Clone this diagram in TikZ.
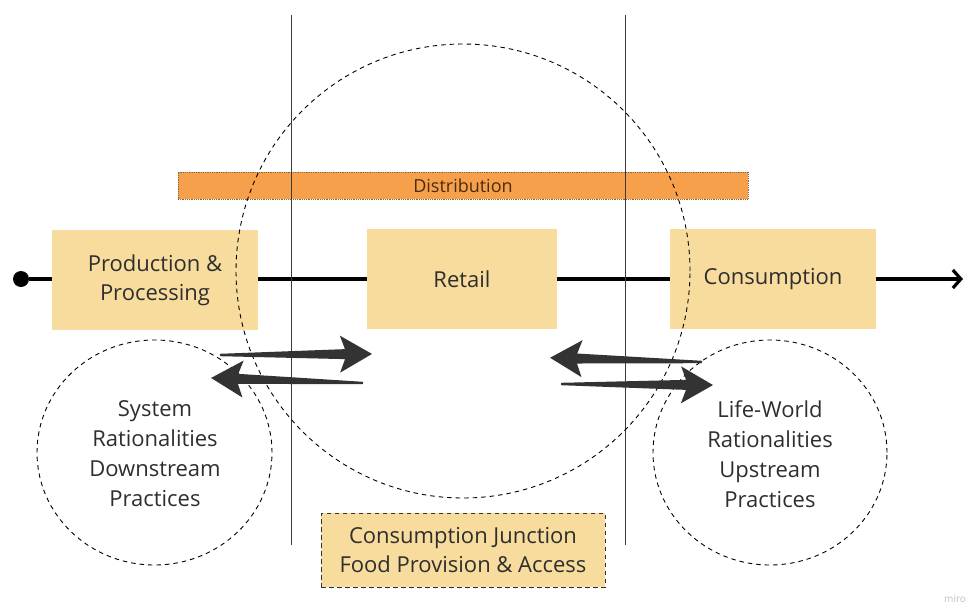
\documentclass[tikz,border=0pt]{standalone}
\usepackage{fontspec}
\setmainfont{Open Sans}
\usetikzlibrary{arrows.meta,shapes.geometric}
\definecolor{boxfill}{HTML}{F8DC9D}
\definecolor{distfill}{HTML}{F7A04B}
\definecolor{distedge}{HTML}{8A6440}
\definecolor{ink}{HTML}{2E2E2E}
\definecolor{distink}{HTML}{4A2C12}
\definecolor{arrowink}{HTML}{333333}
\definecolor{rule}{HTML}{3A3A3A}

\begin{document}
\begin{tikzpicture}[x=1pt,y=-1pt,
  stage/.style={fill=boxfill, minimum height=100pt, inner sep=0pt,
    align=center, text=ink, font=\fontsize{22}{29}\selectfont},
  ring/.style={draw=black, line width=0.9pt, dash pattern=on 4.5pt off 4pt,
    inner sep=0pt},
  ringtext/.style={align=center, inner sep=0pt, text=ink,
    font=\fontsize{22}{30}\selectfont},
  flowline/.style={draw=black, line width=3.4pt},
  divider/.style={draw=rule, line width=1pt},
  fat arrow/.pic={
    \fill[arrowink] (0,-1.2) -- (125,-5) -- (120,-18.5) -- (152,0)
      -- (120,18.5) -- (125,5) -- (0,1.2) -- cycle;}]
\useasboundingbox (0,0) rectangle (972,605);

% value chain stages
\node[stage, minimum width=206pt] (prod) at (155,280) {Production \&\\Processing};
\node[stage, minimum width=190pt] (retail) at (462,279) {Retail};
\node[stage, minimum width=206pt] (cons) at (773,279) {Consumption};

% chain line with start dot and end arrow
\node[circle, fill=black, minimum size=16pt, inner sep=0pt] (start) at (21,279) {};
\coordinate (end) at (963,279);
\draw[flowline] (start) -- (prod.west |- start);
\draw[flowline] (prod.east |- start) -- (retail.west);
\draw[flowline] (retail.east) -- (cons.west);
\draw[flowline, -{Straight Barb[length=8pt,width=18pt,line width=3.2pt]}] (cons.east) -- (end);

% distribution bar
\node[fill=distfill, draw=distedge, line width=0.8pt, densely dotted,
  minimum width=570pt, minimum height=27pt, inner sep=0pt,
  text=distink, font=\fontsize{18}{20}\selectfont] (dist) at (463,185.5) {Distribution};

% vertical dividers
\coordinate (d1top) at (291,15);
\coordinate (d1bot) at (291,545);
\coordinate (d2top) at (625,15);
\coordinate (d2bot) at (625,545);
\draw[divider] (d1top) -- (d1bot);
\draw[divider] (d2top) -- (d2bot);

% rationality circles
\node[ring, circle, minimum size=454pt] (junction) at (463,271) {};
\node[ring, ellipse, minimum width=235pt, minimum height=225pt] (system) at (154.5,452.5) {};
\node[ring, ellipse, minimum width=234pt, minimum height=225pt] (life) at (770,452.5) {};
\node[ringtext] (systemtext) at (155,454)
  {System\\Rationalities\\Downstream\\Practices};
\node[ringtext] (lifetext) at (770,454)
  {Life-World\\Rationalities\\Upstream\\Practices};

% exchange arrows
\pic[rotate=0.4] at (220,355) {fat arrow};
\pic[rotate=178.1] at (363,383) {fat arrow};
\pic[rotate=178.4] at (702,362) {fat arrow};
\pic[rotate=-0.4] at (561,384) {fat arrow};

% consumption junction box
\node[fill=boxfill, draw=black!80, line width=1pt, dash pattern=on 4.5pt off 3.5pt,
  minimum width=284pt, minimum height=74pt, inner sep=0pt, align=center,
  text=ink, font=\fontsize{22}{29}\selectfont] (cjbox) at (463,550)
  {Consumption Junction\\Food Provision \& Access};

% watermark
\node[text=black!25, anchor=base west, inner sep=0pt,
  font=\fontsize{10}{10}\selectfont] (mark) at (944,602) {miro};
\end{tikzpicture}
\end{document}
